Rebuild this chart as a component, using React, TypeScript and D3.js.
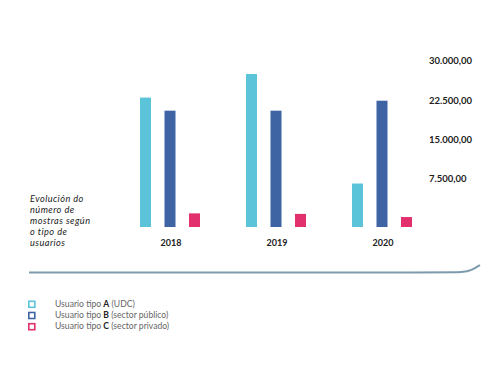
import React from "react";
import * as d3 from "d3";

const years = ["2018", "2019", "2020"];
const seriesKeys = ["A", "B", "C"];
const valuesA = [24700, 29200, 8300];
const valuesB = [22200, 22200, 24100];
const valuesC = [2600, 2500, 1900];
const tickValues = [7500, 15000, 22500, 30000];
const tickLabels = ["7.500,00", "15.000,00", "22.500,00", "30.000,00"];
const titleLines = ["Evolución do", "número de", "mostras según", "o tipo de", "usuarios"];
const legendBold = ["A", "B", "C"];
const legendRest = ["(UDC)", "(sector público)", "(sector privado)"];
const colors = ["#5bc4d9", "#3e64a3", "#e2306f"];

export default function App() {
  const W = 500, H = 377;
  const y = d3.scaleLinear().domain([0, 30000]).range([227, 69.8]);
  const x0 = d3.scaleBand<string>().domain(years).range([140, 458]).paddingInner(0);
  const x1 = d3.scaleBand<string>().domain(seriesKeys).range([0, 60]).paddingInner(0.551);
  const data = [valuesA, valuesB, valuesC];
  const curve = d3.line().curve(d3.curveBasis)([
    [29, 272.5], [440, 272.5], [464, 272.5], [472, 270], [480, 265],
  ]);
  return (
    <svg width={W} height={H} style={{ position: "absolute", left: 0, top: 0, background: "#fff" }}>
      {years.map((yr, i) => (
        <g key={yr} transform={`translate(${x0(yr)},0)`}>
          {seriesKeys.map((k, j) => (
            <rect key={k} x={x1(k)} y={y(data[j][i])} width={x1.bandwidth()} height={y(0) - y(data[j][i])} fill={colors[j]} />
          ))}
          <text x={x1("B")! + x1.bandwidth() / 2 + 1} y={246} textAnchor="middle" fontFamily="Lato" fontWeight={700} fontSize={9} fill="#222">{yr}</text>
        </g>
      ))}
      {tickValues.map((v, i) => (
        <text key={v} x={429} y={y(v) - 8} dominantBaseline="middle" fontFamily="Lato" fontWeight={700} fontSize={9.5} fill="#222">{tickLabels[i]}</text>
      ))}
      {titleLines.map((t, i) => (
        <text key={i} x={30} y={201.5 + i * 11.2} fontFamily="Lato" fontStyle="italic" fontSize={9.2} letterSpacing={0.45} fill="#222">{t}</text>
      ))}
      <path d={curve!} fill="none" stroke="#7d9bad" strokeWidth={2} />
      {legendBold.map((b, i) => (
        <g key={b} transform={`translate(0,${304.3 + i * 11.2})`}>
          <rect x={28.8} y={-3} width={6} height={6} fill="none" stroke={colors[i]} strokeWidth={1.6} />
          <text x={55} y={0.5} dominantBaseline="middle" fontFamily="Lato" fontWeight={400} fontSize={8.6} fill="#666">
            Usuario tipo <tspan fontWeight={700} fill="#222">{b}</tspan> {legendRest[i]}
          </text>
        </g>
      ))}
    </svg>
  );
}
